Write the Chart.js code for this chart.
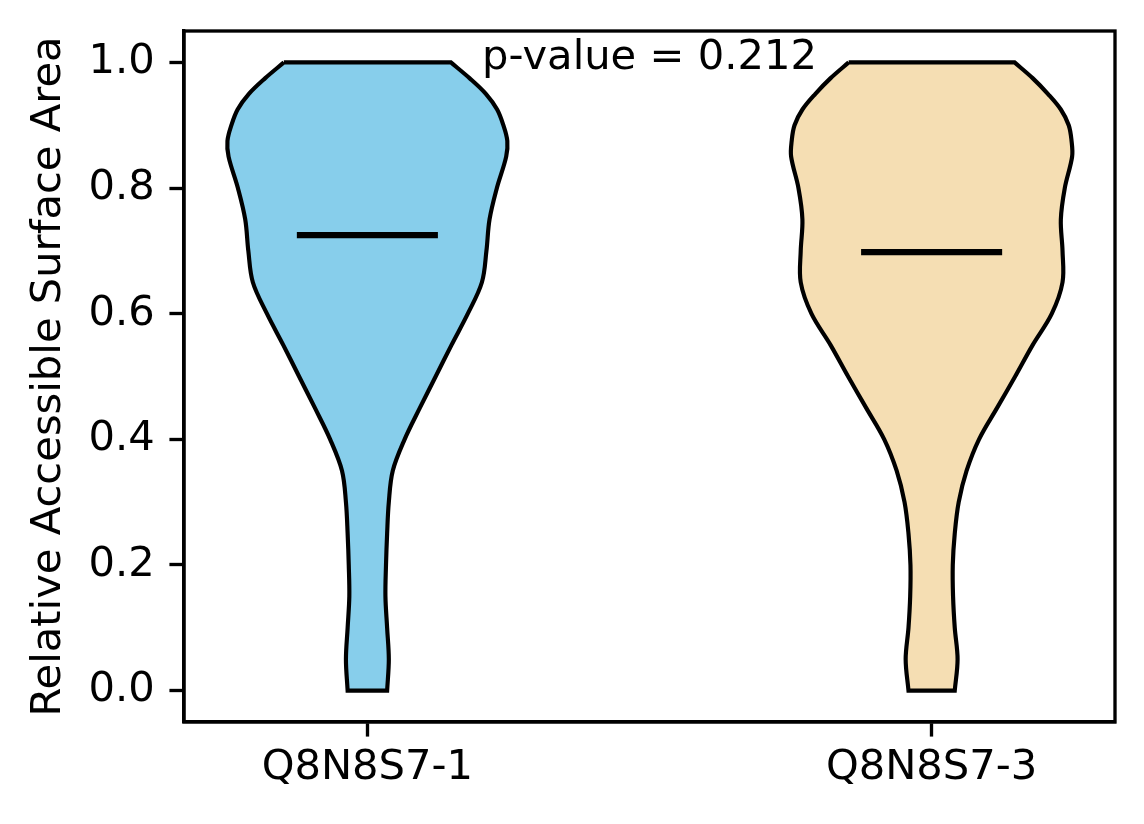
<!DOCTYPE html>
<html>
<head>
<meta charset="utf-8">
<script src="https://cdn.jsdelivr.net/npm/chart.js@4.4.1/dist/chart.umd.min.js"></script>
<style>
  html, body { margin: 0; padding: 0; background: #ffffff; }
  #wrap { width: 1144px; height: 824px; }
</style>
</head>
<body>
<div id="wrap"><canvas id="c" width="1144" height="824"></canvas></div>
<script>
// ---- data ----
const categories = ['Q8N8S7-1', 'Q8N8S7-3'];
const positions = [1, 2];
const yLevels = [0.00, 0.05, 0.10, 0.15, 0.20, 0.25, 0.30, 0.35, 0.40, 0.45, 0.50,
                 0.55, 0.60, 0.65, 0.70, 0.75, 0.80, 0.85, 0.875, 0.90, 0.925, 0.95, 0.975, 1.00];
// half-widths of each violin outline at yLevels (x-axis units)
const halfWidthA = [0.035, 0.038, 0.035, 0.032, 0.033, 0.035, 0.038, 0.045, 0.066, 0.093, 0.121,
                    0.149, 0.178, 0.203, 0.211, 0.2165, 0.2295, 0.246, 0.248, 0.241, 0.230, 0.210, 0.181, 0.148];
const halfWidthB = [0.041, 0.046, 0.041, 0.038, 0.0375, 0.041, 0.048, 0.062, 0.084, 0.116, 0.148,
                    0.179, 0.213, 0.232, 0.232, 0.229, 0.236, 0.249, 0.248, 0.243, 0.229, 0.206, 0.179, 0.147];
const medians = [0.725, 0.698];
const yTicks = [0.0, 0.2, 0.4, 0.6, 0.8, 1.0];
const pValue = 0.212;

// ---- styling ----
const PT = 300 / 72;
const FONT = 'DejaVu Sans';
const FS = 10 * PT;
const fillColors = ['#87CEEB', '#F5DEB3'];
const medianHalf = 0.125;

function violinOutline(center, hw) {
  const pts = [];
  const n = yLevels.length;
  for (let i = n - 1; i >= 0; i--) pts.push({ x: center - hw[i], y: yLevels[i] });
  pts.push({ x: center - hw[0], y: yLevels[0] });
  pts.push({ x: center + hw[0], y: yLevels[0] });
  for (let i = 0; i < n; i++) pts.push({ x: center + hw[i], y: yLevels[i] });
  pts.push({ x: center + hw[n - 1], y: yLevels[n - 1] });
  pts.push({ x: center - hw[n - 1], y: yLevels[n - 1] });
  return pts;
}

const widths = [halfWidthA, halfWidthB];
const datasets = [];
positions.forEach((p, k) => {
  datasets.push({
    label: categories[k] + ' median',
    data: [{ x: p - medianHalf, y: medians[k] }, { x: p + medianHalf, y: medians[k] }],
    borderColor: '#000000',
    borderWidth: 1.5 * PT,
    borderCapStyle: 'butt',
    pointRadius: 0,
    fill: false,
    tension: 0,
    order: 0
  });
});
positions.forEach((p, k) => {
  datasets.push({
    label: categories[k],
    data: violinOutline(p, widths[k]),
    borderColor: '#000000',
    backgroundColor: fillColors[k],
    borderWidth: 1 * PT,
    borderJoinStyle: 'miter',
    pointRadius: 0,
    fill: 'shape',
    tension: 0.35,
    order: 1
  });
});

const framePlugin = {
  id: 'frame',
  afterDraw(chart) {
    const { ctx, chartArea: a } = chart;
    ctx.save();
    ctx.strokeStyle = '#000';
    ctx.lineWidth = 0.8 * PT;
    ctx.strokeRect(a.left, a.top, a.right - a.left, a.bottom - a.top);
    const xs = chart.scales.x, ys = chart.scales.y;
    ctx.fillStyle = '#000';
    ctx.font = FS + 'px "' + FONT + '"';
    ctx.textAlign = 'center';
    ctx.textBaseline = 'alphabetic';
    ctx.fillText('p-value = ' + pValue.toFixed(3), xs.getPixelForValue(1.5), ys.getPixelForValue(0.99));
    ctx.restore();
  }
};

function zeroPad(s) { s.paddingTop = 0; s.paddingBottom = 0; s.paddingLeft = 0; s.paddingRight = 0; }

new Chart(document.getElementById('c'), {
  type: 'line',
  data: { datasets },
  plugins: [framePlugin],
  options: {
    responsive: false,
    animation: false,
    devicePixelRatio: 1,
    layout: { padding: { top: 31, right: 29, left: 0, bottom: 0 } },
    plugins: { legend: { display: false }, tooltip: { enabled: false } },
    scales: {
      x: {
        type: 'linear',
        min: 0.675, max: 2.325,
        afterBuildTicks(s) { s.ticks = positions.map(v => ({ value: v })); },
        afterFit(s) { s.height = 102; zeroPad(s); },
        ticks: {
          color: '#000',
          font: { family: FONT, size: FS },
          padding: 7,
          maxRotation: 0,
          callback(v) { const i = positions.indexOf(v); return i >= 0 ? categories[i] : ''; }
        },
        grid: { drawOnChartArea: false, drawTicks: true, tickLength: 3.5 * PT, tickWidth: 0.8 * PT, tickColor: '#000' },
        border: { display: true, color: '#000', width: 0.8 * PT }
      },
      y: {
        type: 'linear',
        min: -0.05, max: 1.05,
        afterBuildTicks(s) { s.ticks = yTicks.map(v => ({ value: v })); },
        afterFit(s) { s.width = 184; zeroPad(s); },
        ticks: {
          color: '#000',
          font: { family: FONT, size: FS },
          padding: 3.5 * PT,
          callback(v) { return Number(v).toFixed(1); }
        },
        grid: { drawOnChartArea: false, drawTicks: true, tickLength: 3.5 * PT, tickWidth: 0.8 * PT, tickColor: '#000' },
        border: { display: true, color: '#000', width: 0.8 * PT },
        title: {
          display: true,
          text: 'Relative Accessible Surface Area',
          color: '#000',
          font: { family: FONT, size: FS },
          padding: { top: 24, bottom: 0 }
        }
      }
    }
  }
});
</script>
</body>
</html>
